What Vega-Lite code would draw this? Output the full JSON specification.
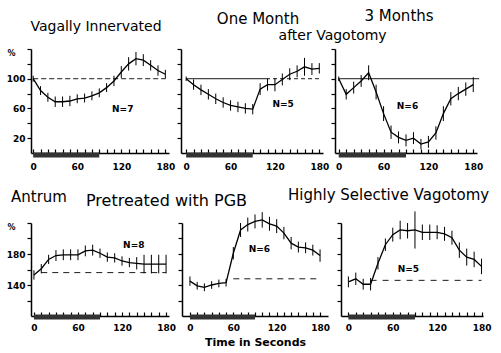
{
  "$schema": "https://vega.github.io/schema/vega-lite/v6.json",
  "background": "white",
  "padding": {"left": 6, "top": 9, "right": 2, "bottom": 2},
  "config": {
    "view": {"stroke": null},
    "font": "DejaVu Sans",
    "axis": {"grid": false, "domainColor": "black", "tickColor": "black", "labelColor": "black", "titleColor": "black", "labelFont": "DejaVu Sans", "labelFontSize": 9, "labelFontWeight": "bold", "domainWidth": 1.5, "tickWidth": 1.2},
    "title": {"color": "black", "fontWeight": "normal", "frame": "group", "font": "DejaVu Sans"}
  },
  "datasets": {
    "p1": [
      {"t": 0, "v": 100, "e": 4}, {"t": 10, "v": 84, "e": 6}, {"t": 20, "v": 75, "e": 6}, {"t": 30, "v": 69, "e": 7}, {"t": 40, "v": 69, "e": 7}, {"t": 50, "v": 70, "e": 7}, {"t": 60, "v": 73, "e": 6}, {"t": 70, "v": 74, "e": 6}, {"t": 80, "v": 77, "e": 6}, {"t": 90, "v": 81, "e": 6}, {"t": 100, "v": 88, "e": 6}, {"t": 110, "v": 97, "e": 7}, {"t": 120, "v": 109, "e": 8}, {"t": 130, "v": 120, "e": 9}, {"t": 140, "v": 127, "e": 9}, {"t": 150, "v": 125, "e": 8}, {"t": 160, "v": 118, "e": 7}, {"t": 170, "v": 111, "e": 7}, {"t": 180, "v": 106, "e": 6}
    ],
    "p2": [
      {"t": 0, "v": 100, "e": 3}, {"t": 10, "v": 92, "e": 7}, {"t": 20, "v": 85, "e": 7}, {"t": 30, "v": 79, "e": 7}, {"t": 40, "v": 73, "e": 7}, {"t": 50, "v": 68, "e": 7}, {"t": 60, "v": 64, "e": 7}, {"t": 70, "v": 62, "e": 7}, {"t": 80, "v": 60, "e": 7}, {"t": 90, "v": 59, "e": 7}, {"t": 100, "v": 86, "e": 8}, {"t": 110, "v": 92, "e": 8}, {"t": 120, "v": 92, "e": 9}, {"t": 130, "v": 99, "e": 8}, {"t": 140, "v": 106, "e": 8}, {"t": 150, "v": 110, "e": 8}, {"t": 160, "v": 116, "e": 12}, {"t": 170, "v": 113, "e": 8}, {"t": 180, "v": 114, "e": 7}
    ],
    "p3": [
      {"t": 0, "v": 100, "e": 3}, {"t": 10, "v": 79, "e": 7}, {"t": 20, "v": 88, "e": 8}, {"t": 30, "v": 97, "e": 8}, {"t": 40, "v": 108, "e": 10}, {"t": 50, "v": 82, "e": 10}, {"t": 60, "v": 53, "e": 10}, {"t": 70, "v": 28, "e": 9}, {"t": 80, "v": 21, "e": 8}, {"t": 90, "v": 17, "e": 8}, {"t": 100, "v": 20, "e": 8}, {"t": 110, "v": 12, "e": 7}, {"t": 120, "v": 15, "e": 8}, {"t": 130, "v": 27, "e": 9}, {"t": 140, "v": 53, "e": 10}, {"t": 150, "v": 73, "e": 9}, {"t": 160, "v": 80, "e": 9}, {"t": 170, "v": 86, "e": 9}, {"t": 180, "v": 92, "e": 10}
    ],
    "p4": [
      {"t": 0, "v": 153, "e": 6}, {"t": 10, "v": 161, "e": 6}, {"t": 20, "v": 173, "e": 6}, {"t": 30, "v": 178, "e": 7}, {"t": 40, "v": 179, "e": 7}, {"t": 50, "v": 179, "e": 7}, {"t": 60, "v": 179, "e": 7}, {"t": 70, "v": 184, "e": 7}, {"t": 80, "v": 185, "e": 7}, {"t": 90, "v": 181, "e": 6}, {"t": 100, "v": 176, "e": 6}, {"t": 110, "v": 175, "e": 6}, {"t": 120, "v": 171, "e": 6}, {"t": 130, "v": 169, "e": 6}, {"t": 140, "v": 168, "e": 8}, {"t": 150, "v": 167, "e": 12}, {"t": 160, "v": 167, "e": 12}, {"t": 170, "v": 167, "e": 12}, {"t": 180, "v": 167, "e": 12}
    ],
    "p5": [
      {"t": 0, "v": 145, "e": 6}, {"t": 10, "v": 139, "e": 5}, {"t": 20, "v": 137, "e": 5}, {"t": 30, "v": 140, "e": 5}, {"t": 40, "v": 142, "e": 5}, {"t": 50, "v": 143, "e": 5}, {"t": 60, "v": 181, "e": 8}, {"t": 70, "v": 211, "e": 9}, {"t": 80, "v": 218, "e": 9}, {"t": 90, "v": 222, "e": 9}, {"t": 100, "v": 224, "e": 10}, {"t": 110, "v": 219, "e": 9}, {"t": 120, "v": 216, "e": 9}, {"t": 130, "v": 207, "e": 8}, {"t": 140, "v": 194, "e": 8}, {"t": 150, "v": 189, "e": 7}, {"t": 160, "v": 188, "e": 7}, {"t": 170, "v": 185, "e": 7}, {"t": 180, "v": 178, "e": 8}
    ],
    "p6": [
      {"t": 0, "v": 144, "e": 7}, {"t": 10, "v": 148, "e": 8}, {"t": 20, "v": 141, "e": 7}, {"t": 30, "v": 141, "e": 8}, {"t": 40, "v": 168, "e": 8}, {"t": 50, "v": 192, "e": 8}, {"t": 60, "v": 205, "e": 9}, {"t": 70, "v": 211, "e": 12}, {"t": 80, "v": 210, "e": 10}, {"t": 90, "v": 211, "e": 24}, {"t": 100, "v": 208, "e": 10}, {"t": 110, "v": 208, "e": 10}, {"t": 120, "v": 208, "e": 9}, {"t": 130, "v": 206, "e": 9}, {"t": 140, "v": 201, "e": 9}, {"t": 150, "v": 185, "e": 10}, {"t": 160, "v": 176, "e": 11}, {"t": 170, "v": 173, "e": 10}, {"t": 180, "v": 164, "e": 10}
    ]
  },
  "spacing": 16,
  "vconcat": [
    {
      "hconcat": [
        {
          "width": 138, "height": 104,
          "title": {"text": "Vagally Innervated", "fontSize": 14, "offset": 14, "dx": -4},
          "encoding": {
            "x": {"field": "t", "type": "quantitative", "scale": {"domain": [-3, 185], "nice": false, "zero": false},
                  "axis": {"title": null, "values": [0, 10, 20, 30, 40, 50, 60, 70, 80, 90, 100, 110, 120, 130, 140, 150, 160, 170, 180], "labelExpr": "datum.value % 60 === 0 ? datum.label : ''", "tickSize": -4, "labelPadding": 13, "labelOverlap": false, "labelFlush": false}},
            "y": {"field": "v", "type": "quantitative", "scale": {"domain": [0, 140], "nice": false, "zero": false},
                  "axis": {"title": "%", "titleAngle": 0, "titleX": -20, "titleY": 0, "titleAlign": "center", "titleBaseline": "top", "titleFontSize": 8, "titleFontWeight": "bold", "values": [20, 40, 60, 80, 100, 120, 140], "labelExpr": "datum.value === 20 || datum.value === 60 || datum.value === 100 ? datum.label : ''", "tickSize": 4, "labelPadding": 2}}
          },
          "layer": [
            {"data": {"values": [{"start": 0, "end": 90, "base": 0}]}, "mark": {"type": "rule", "strokeWidth": 5, "color": "#333333", "strokeCap": "butt", "yOffset": 2}, "encoding": {"x": {"field": "start"}, "x2": {"field": "end"}, "y": {"field": "base"}}},
            {"data": {"values": [{"level": 100, "from": 0, "to": 180}]}, "mark": {"type": "rule", "strokeWidth": 0.9, "color": "black", "strokeDash": [5, 3]}, "encoding": {"x": {"field": "from"}, "x2": {"field": "to"}, "y": {"field": "level"}}},
            {"data": {"name": "p1"}, "mark": {"type": "line", "color": "black", "strokeWidth": 1.3}},
            {"data": {"name": "p1"}, "mark": {"type": "errorbar", "color": "black", "thickness": 1}, "encoding": {"yError": {"field": "e"}}},
            {"data": {"values": [{"label": "N=7", "t": 122, "v": 59}]}, "mark": {"type": "text", "fontSize": 9, "fontWeight": "bold", "color": "black"}, "encoding": {"text": {"field": "label"}}}
          ]
        },
        {
          "width": 142, "height": 104,
          "title": {"text": "One Month", "fontSize": 15, "offset": 2, "dx": 6},
          "encoding": {
            "x": {"field": "t", "type": "quantitative", "scale": {"domain": [-7, 185], "nice": false, "zero": false},
                  "axis": {"title": null, "values": [0, 10, 20, 30, 40, 50, 60, 70, 80, 90, 100, 110, 120, 130, 140, 150, 160, 170, 180], "labelExpr": "datum.value % 60 === 0 ? datum.label : ''", "tickSize": -4, "labelPadding": 13, "labelOverlap": false, "labelFlush": false}},
            "y": {"field": "v", "type": "quantitative", "scale": {"domain": [0, 140], "nice": false, "zero": false},
                  "axis": {"title": null, "labels": false, "values": [20, 40, 60, 80, 100, 120, 140], "tickSize": 4}}
          },
          "layer": [
            {"data": {"values": [{"start": 0, "end": 90, "base": 0}]}, "mark": {"type": "rule", "strokeWidth": 5, "color": "#333333", "strokeCap": "butt", "yOffset": 2}, "encoding": {"x": {"field": "start"}, "x2": {"field": "end"}, "y": {"field": "base"}}},
            {"data": {"values": [{"level": 100, "from": 0, "to": 108}]}, "mark": {"type": "rule", "strokeWidth": 0.9, "color": "black"}, "encoding": {"x": {"field": "from"}, "x2": {"field": "to"}, "y": {"field": "level"}}},
            {"data": {"values": [{"level": 100, "from": 108, "to": 182}]}, "mark": {"type": "rule", "strokeWidth": 0.9, "color": "black", "strokeDash": [4, 3]}, "encoding": {"x": {"field": "from"}, "x2": {"field": "to"}, "y": {"field": "level"}}},
            {"data": {"name": "p2"}, "mark": {"type": "line", "color": "black", "strokeWidth": 1.3}},
            {"data": {"name": "p2"}, "mark": {"type": "errorbar", "color": "black", "thickness": 1}, "encoding": {"yError": {"field": "e"}}},
            {"data": {"values": [{"label": "N=5", "t": 131, "v": 66}]}, "mark": {"type": "text", "fontSize": 9, "fontWeight": "bold", "color": "black"}, "encoding": {"text": {"field": "label"}}},
            {"data": {"values": [{"label": "after Vagotomy", "t": 198, "v": 152}]}, "mark": {"type": "text", "fontSize": 14, "color": "black", "baseline": "alphabetic"}, "encoding": {"text": {"field": "label"}}}
          ]
        },
        {
          "width": 142, "height": 104,
          "title": {"text": "3 Months", "fontSize": 15, "offset": 24, "dx": -7},
          "encoding": {
            "x": {"field": "t", "type": "quantitative", "scale": {"domain": [-5, 185], "nice": false, "zero": false},
                  "axis": {"title": null, "values": [0, 10, 20, 30, 40, 50, 60, 70, 80, 90, 100, 110, 120, 130, 140, 150, 160, 170, 180], "labelExpr": "datum.value % 60 === 0 ? datum.label : ''", "tickSize": -4, "labelPadding": 13, "labelOverlap": false, "labelFlush": false}},
            "y": {"field": "v", "type": "quantitative", "scale": {"domain": [0, 140], "nice": false, "zero": false},
                  "axis": {"title": null, "labels": false, "values": [20, 40, 60, 80, 100, 120, 140], "tickSize": 4}}
          },
          "layer": [
            {"data": {"values": [{"start": 0, "end": 90, "base": 0}]}, "mark": {"type": "rule", "strokeWidth": 5, "color": "#333333", "strokeCap": "butt", "yOffset": 2}, "encoding": {"x": {"field": "start"}, "x2": {"field": "end"}, "y": {"field": "base"}}},
            {"data": {"values": [{"level": 100, "from": 0, "to": 188}]}, "mark": {"type": "rule", "strokeWidth": 0.9, "color": "black"}, "encoding": {"x": {"field": "from"}, "x2": {"field": "to"}, "y": {"field": "level"}}},
            {"data": {"name": "p3"}, "mark": {"type": "line", "color": "black", "strokeWidth": 1.3}},
            {"data": {"name": "p3"}, "mark": {"type": "errorbar", "color": "black", "thickness": 1}, "encoding": {"yError": {"field": "e"}}},
            {"data": {"values": [{"label": "N=6", "t": 92, "v": 63}]}, "mark": {"type": "text", "fontSize": 9, "fontWeight": "bold", "color": "black"}, "encoding": {"text": {"field": "label"}}}
          ]
        }
      ],
      "spacing": 12,
      "bounds": "flush"
    },
    {
      "hconcat": [
        {
          "width": 138, "height": 93,
          "title": {"text": "Antrum", "fontSize": 15, "offset": 17, "anchor": "start", "dx": -20},
          "encoding": {
            "x": {"field": "t", "type": "quantitative", "scale": {"domain": [-4, 184], "nice": false, "zero": false},
                  "axis": {"title": null, "values": [0, 10, 20, 30, 40, 50, 60, 70, 80, 90, 100, 110, 120, 130, 140, 150, 160, 170, 180], "labelExpr": "datum.value % 60 === 0 ? datum.label : ''", "tickSize": -4, "labelPadding": 11, "labelOverlap": false, "labelFlush": false}},
            "y": {"field": "v", "type": "quantitative", "scale": {"domain": [100, 220], "nice": false, "zero": false},
                  "axis": {"title": "%", "titleAngle": 0, "titleX": -20, "titleY": 0, "titleAlign": "center", "titleBaseline": "top", "titleFontSize": 8, "titleFontWeight": "bold", "values": [120, 140, 160, 180, 200, 220], "labelExpr": "datum.value === 140 || datum.value === 180 ? datum.label : ''", "tickSize": 4, "labelPadding": 2}}
          },
          "layer": [
            {"data": {"values": [{"start": 0, "end": 90, "base": 100}]}, "mark": {"type": "rule", "strokeWidth": 5, "color": "#333333", "strokeCap": "butt", "yOffset": 1}, "encoding": {"x": {"field": "start"}, "x2": {"field": "end"}, "y": {"field": "base"}}},
            {"data": {"values": [{"level": 156, "from": 10, "to": 180}]}, "mark": {"type": "rule", "strokeWidth": 0.9, "color": "black", "strokeDash": [6, 5]}, "encoding": {"x": {"field": "from"}, "x2": {"field": "to"}, "y": {"field": "level"}}},
            {"data": {"name": "p4"}, "mark": {"type": "line", "color": "black", "strokeWidth": 1.3}},
            {"data": {"name": "p4"}, "mark": {"type": "errorbar", "color": "black", "thickness": 1}, "encoding": {"yError": {"field": "e"}}},
            {"data": {"values": [{"label": "N=8", "t": 136, "v": 191}]}, "mark": {"type": "text", "fontSize": 9, "fontWeight": "bold", "color": "black"}, "encoding": {"text": {"field": "label"}}}
          ]
        },
        {
          "width": 146, "height": 93,
          "title": {"text": "Pretreated with PGB", "fontSize": 16, "offset": 3, "dy": 0, "anchor": "start", "dx": -96},
          "encoding": {
            "x": {"field": "t", "type": "quantitative", "scale": {"domain": [-11, 191], "nice": false, "zero": false},
                  "axis": {"title": "Time in Seconds", "titleFontSize": 11, "titleFontWeight": "bold", "titlePadding": 4, "values": [0, 10, 20, 30, 40, 50, 60, 70, 80, 90, 100, 110, 120, 130, 140, 150, 160, 170, 180], "labelExpr": "datum.value % 60 === 0 ? datum.label : ''", "tickSize": -4, "labelPadding": 11, "labelOverlap": false, "labelFlush": false}},
            "y": {"field": "v", "type": "quantitative", "scale": {"domain": [100, 220], "nice": false, "zero": false},
                  "axis": {"title": null, "labels": false, "values": [120, 140, 160, 180, 200, 220], "tickSize": 4}}
          },
          "layer": [
            {"data": {"values": [{"start": 0, "end": 90, "base": 100}]}, "mark": {"type": "rule", "strokeWidth": 5, "color": "#333333", "strokeCap": "butt", "yOffset": 1}, "encoding": {"x": {"field": "start"}, "x2": {"field": "end"}, "y": {"field": "base"}}},
            {"data": {"values": [{"level": 148, "from": 60, "to": 180}]}, "mark": {"type": "rule", "strokeWidth": 0.9, "color": "black", "strokeDash": [6, 5]}, "encoding": {"x": {"field": "from"}, "x2": {"field": "to"}, "y": {"field": "level"}}},
            {"data": {"name": "p5"}, "mark": {"type": "line", "color": "black", "strokeWidth": 1.3}},
            {"data": {"name": "p5"}, "mark": {"type": "errorbar", "color": "black", "thickness": 1}, "encoding": {"yError": {"field": "e"}}},
            {"data": {"values": [{"label": "N=6", "t": 96, "v": 186}]}, "mark": {"type": "text", "fontSize": 9, "fontWeight": "bold", "color": "black"}, "encoding": {"text": {"field": "label"}}}
          ]
        },
        {
          "width": 142, "height": 93,
          "title": {"text": "Highly Selective Vagotomy", "fontSize": 15, "offset": 8, "anchor": "start", "dx": -53},
          "encoding": {
            "x": {"field": "t", "type": "quantitative", "scale": {"domain": [-10, 182], "nice": false, "zero": false},
                  "axis": {"title": null, "values": [0, 10, 20, 30, 40, 50, 60, 70, 80, 90, 100, 110, 120, 130, 140, 150, 160, 170, 180], "labelExpr": "datum.value % 60 === 0 ? datum.label : ''", "tickSize": -4, "labelPadding": 11, "labelOverlap": false, "labelFlush": false}},
            "y": {"field": "v", "type": "quantitative", "scale": {"domain": [100, 220], "nice": false, "zero": false},
                  "axis": {"title": null, "labels": false, "values": [120, 140, 160, 180, 200, 220], "tickSize": 4}}
          },
          "layer": [
            {"data": {"values": [{"start": 0, "end": 90, "base": 100}]}, "mark": {"type": "rule", "strokeWidth": 5, "color": "#333333", "strokeCap": "butt", "yOffset": 1}, "encoding": {"x": {"field": "start"}, "x2": {"field": "end"}, "y": {"field": "base"}}},
            {"data": {"values": [{"level": 146, "from": 30, "to": 180}]}, "mark": {"type": "rule", "strokeWidth": 0.9, "color": "black", "strokeDash": [6, 6]}, "encoding": {"x": {"field": "from"}, "x2": {"field": "to"}, "y": {"field": "level"}}},
            {"data": {"name": "p6"}, "mark": {"type": "line", "color": "black", "strokeWidth": 1.3}},
            {"data": {"name": "p6"}, "mark": {"type": "errorbar", "color": "black", "thickness": 1}, "encoding": {"yError": {"field": "e"}}},
            {"data": {"values": [{"label": "N=5", "t": 81, "v": 161}]}, "mark": {"type": "text", "fontSize": 9, "fontWeight": "bold", "color": "black"}, "encoding": {"text": {"field": "label"}}}
          ]
        }
      ],
      "spacing": 13,
      "bounds": "flush"
    }
  ]
}
